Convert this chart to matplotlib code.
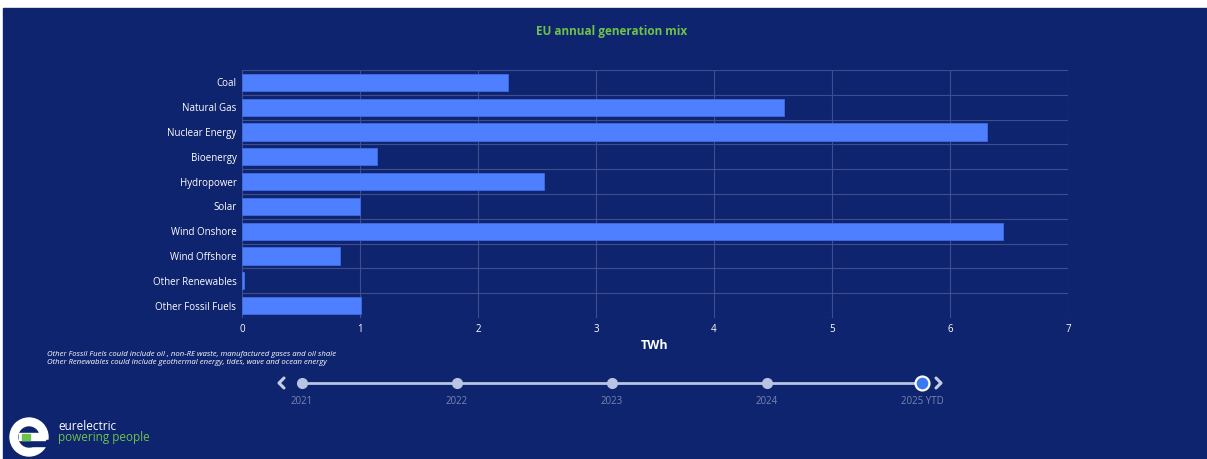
"""EU annual generation mix, horizontal bar chart on a dark dashboard."""

import matplotlib.pyplot as plt
from matplotlib.patches import Circle, Rectangle

CATEGORIES = [
    "Coal",
    "Natural Gas",
    "Nuclear Energy",
    "Bioenergy",
    "Hydropower",
    "Solar",
    "Wind Onshore",
    "Wind Offshore",
    "Other Renewables",
    "Other Fossil Fuels",
]
VALUES_TWH = [2.25, 4.59, 6.31, 1.14, 2.56, 1.00, 6.45, 0.83, 0.02, 1.01]
X_TICKS = [0, 1, 2, 3, 4, 5, 6, 7]
YEARS = ["2021", "2022", "2023", "2024", "2025 YTD"]
NOTES = [
    "Other Fossil Fuels could include oil , non-RE waste, manufactured gases and oil shale",
    "Other Renewables could include geothermal energy, tides, wave and ocean energy",
]

W, H = 1207, 459
NAVY = "#0f246e"
BAR = "#4d7fff"
GREEN = "#6cc24a"
GRID = "#3d4f90"
FONT = ["Open Sans", "DejaVu Sans"]

plt.rcParams["font.family"] = FONT


def px_axes(fig, left, top, right, bottom):
    return fig.add_axes(
        [left / W, 1 - bottom / H, (right - left) / W, (bottom - top) / H]
    )


fig = plt.figure(figsize=(W / 100, H / 100), dpi=100, facecolor="white")

# dark panel with the thin white border of the screenshot
bg = fig.add_axes([0, 0, 1, 1])
bg.set_xlim(0, W)
bg.set_ylim(H, 0)
bg.axis("off")
bg.add_patch(Rectangle((3, 8), W, H, color=NAVY, zorder=0))

# ---------------------------------------------------------------- bar chart
ax = px_axes(fig, 242, 70, 1068, 318)
ax.set_facecolor(NAVY)
pos = range(len(CATEGORIES))
ax.barh(pos, VALUES_TWH, height=0.69, color=BAR, edgecolor="#3f6be0",
        linewidth=0.6, zorder=3)
ax.set_ylim(len(CATEGORIES) - 0.5, -0.5)
ax.set_xlim(0, 7)
ax.set_xticks(X_TICKS)
ax.set_yticks(list(pos))
ax.set_yticklabels(CATEGORIES)
ax.set_yticks([i - 0.5 for i in range(len(CATEGORIES) + 1)], minor=True)
ax.grid(axis="x", which="major", color=GRID, linewidth=0.8, zorder=0)
ax.grid(axis="y", which="minor", color=GRID, linewidth=0.8, zorder=0)
ax.tick_params(axis="y", which="both", length=0, pad=4, labelsize=7,
               labelcolor="white")
ax.tick_params(axis="x", length=0, pad=4, labelsize=7, labelcolor="white")
for side in ax.spines.values():
    side.set_visible(False)
ax.set_xlabel("TWh", color="white", fontsize=9, fontweight="bold", labelpad=3)

# ------------------------------------------------------------ overlay texts
bg.text(612, 31, "EU annual generation mix", color=GREEN, fontsize=8.5,
        fontweight="bold", ha="center", va="center")
for i, note in enumerate(NOTES):
    bg.text(47, 355 + 8 * i, note, color="white", fontsize=5.6, style="italic",
            ha="left", va="center")

# timeline slider
xs = [302 + 155 * i for i in range(len(YEARS))]
bg.plot([xs[0], xs[-1]], [383, 383], color="#b9c3e3", linewidth=2, zorder=2)
for i, (x, year) in enumerate(zip(xs, YEARS)):
    last = i == len(YEARS) - 1
    if last:
        bg.plot(x, 383, "o", markersize=10, color="#3a78f2",
                markeredgecolor="white", markeredgewidth=1.6, zorder=3)
    else:
        bg.plot(x, 383, "o", markersize=7, color="#b9c3e3", zorder=3)
    bg.text(x, 402, year, color="#7885b0", fontsize=7, ha="center",
            va="center")
bg.plot([284, 279, 284], [378, 383, 388], color="#c5cce6", linewidth=2.2,
        solid_capstyle="round")
bg.plot([936, 941, 936], [378, 383, 388], color="#c5cce6", linewidth=2.2,
        solid_capstyle="round")

# logo: white "e" with a green stroke in the bar
bg.add_patch(Circle((29, 437), 19, color="white", zorder=4))
bg.add_patch(Circle((29, 437), 10, color=NAVY, zorder=5))
bg.add_patch(Rectangle((30, 440), 20, 6, color=NAVY, zorder=5))
bg.add_patch(Rectangle((19, 433), 26, 7, color="white", zorder=6))
bg.add_patch(Rectangle((22, 433.5), 8, 6, color=GREEN, zorder=7))
bg.text(58, 426, "eurelectric", color="white", fontsize=8.5, ha="left",
        va="center")
bg.text(58, 437, "powering people", color=GREEN, fontsize=8.5, ha="left",
        va="center")

fig.savefig("out.png", dpi=100, facecolor="white")
